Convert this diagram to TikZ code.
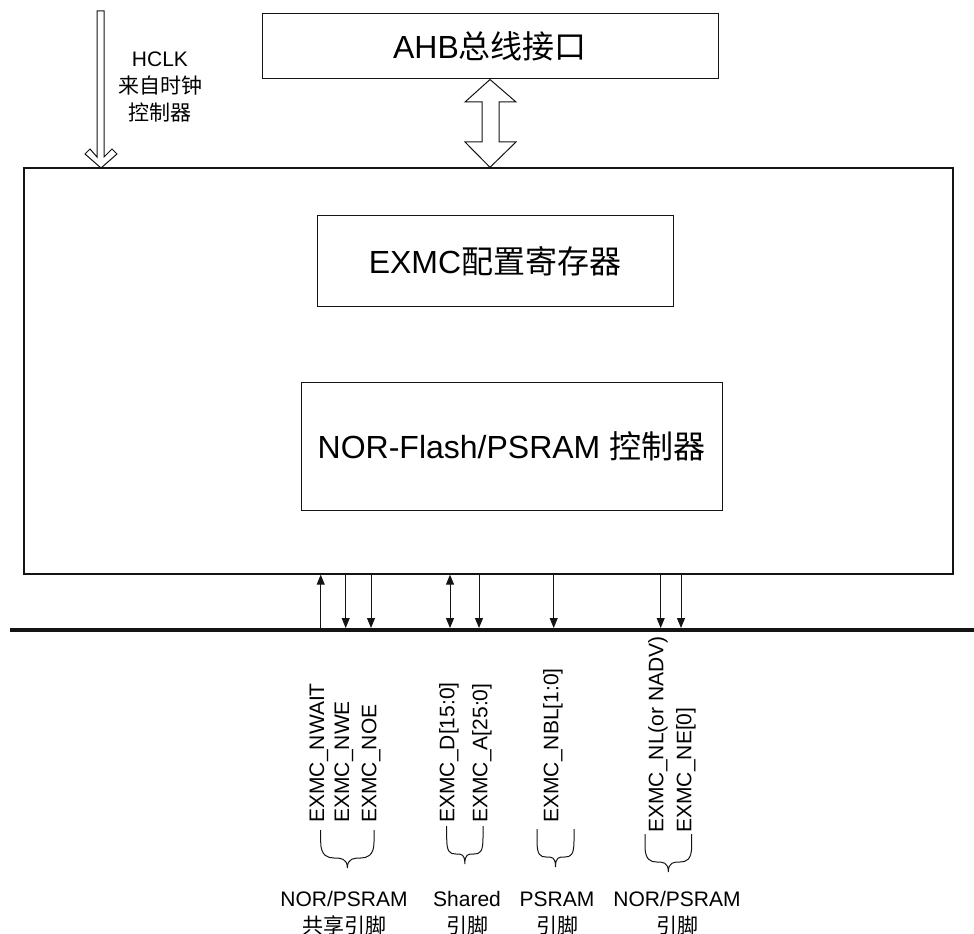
\documentclass[tikz,border=0pt]{standalone}
\usepackage{fontspec}
\setmainfont{Liberation Sans}
\newfontfamily\cjk{Noto Sans CJK SC}
\usepackage{tikz}
\usetikzlibrary{arrows.meta,positioning}
\usepackage{xcolor}
\definecolor{lineblack}{RGB}{20,20,20}

\newcommand{\pinbrace}[4]{%
  \pgfmathsetmacro\bm{(#2+#3)/2}%
  \pgfmathsetmacro\bl{(#2+\bm)/2}%
  \pgfmathsetmacro\br{(#3+\bm)/2}%
  \draw[draw=lineblack,line width=0.75pt] (#2,#4) -- (#2,#4+12)
    .. controls (#2,#4+26) and (\bl-6,#4+28) .. (\bl,#4+28)
    .. controls (\bl+6,#4+28) and (\bm,#4+28) .. (\bm,#4+38)
    .. controls (\bm,#4+28) and (\br-6,#4+28) .. (\br,#4+28)
    .. controls (\br+6,#4+28) and (#3,#4+26) .. (#3,#4+12) -- (#3,#4);
  \coordinate (#1) at (\bm,#4+38);}

\begin{document}
\begin{tikzpicture}[x=0.75pt,y=-0.75pt,line width=0.75pt,
  box/.style={draw=lineblack,inner sep=0pt,font=\fontsize{24}{28}\selectfont},
  sig/.style={draw=lineblack,-{Triangle[length=7.5pt,width=6pt]}},
  pin/.style={rotate=90,anchor=west,inner sep=0pt,font=\fontsize{15.75}{18}\selectfont},
  grp/.style={align=center,inner sep=0pt,font=\fontsize{15.75}{20.25}\selectfont}]
\useasboundingbox (0,0) rectangle (974,934);

\node[box,minimum width=342pt,minimum height=48.75pt] (ahb) at (490,46.5) {AHB{\cjk 总线接口}};
\node[box,line width=1pt,minimum width=696.75pt,minimum height=304.5pt] (exmc) at (488.5,371) {};
\node[box,minimum width=267pt,minimum height=67.5pt] (cfg) at (495,261) {EXMC{\cjk 配置寄存器}};
\node[box,minimum width=315.75pt,minimum height=96pt] (nor) at (511.5,446) {NOR-Flash/PSRAM {\cjk 控制器}};

\node[grp] (hclk) at (160,87) {HCLK\\{\cjk 来自时钟}\\{\cjk 控制器}};
\draw[draw=lineblack] (97,11) -- (104,11) -- (104,157) -- (112,149) -- (117,154) -- (101,168)
  -- (85,154) -- (90,149) -- (97,157) -- cycle;

\draw[draw=lineblack] (ahb.south) -- (516,102) -- (499,102) -- (499,142) -- (516,142) -- (exmc.north -| ahb.south)
  -- (465,142) -- (482,142) -- (482,102) -- (465,102) -- cycle;

\coordinate (busL) at (10,630);
\coordinate (busR) at (974,630);
\draw[draw=lineblack,line width=3pt] (busL) -- (busR);

\draw[sig,shorten <=1.5pt] (320.7,0 |- busL) -- (exmc.south -| 320.7,0);
\draw[sig,{Triangle[length=7.5pt,width=6pt]}-{Triangle[length=7.5pt,width=6pt]},shorten >=1.5pt] (exmc.south -| 450,0) -- (450,0 |- busL);
\foreach \x in {345.7,371,479,553.7,660.7,681}
  \draw[sig,shorten >=1.5pt] (exmc.south -| \x,0) -- (\x,0 |- busL);

\node[pin] (nwait) at (319,823) {EXMC\_NWAIT};
\node[pin] (nwe) at (344,823) {EXMC\_NWE};
\node[pin] (noe) at (371,823) {EXMC\_NOE};
\node[pin] (dbus) at (449,823) {EXMC\_D[15:0]};
\node[pin] (abus) at (482,823) {EXMC\_A[25:0]};
\node[pin] (nbl) at (553,823) {EXMC\_NBL[1:0]};
\node[pin] (nl) at (658,833) {EXMC\_NL(or NADV)};
\node[pin] (ne) at (686,833) {EXMC\_NE[0]};

\pinbrace{tipA}{320.7}{374}{830}
\pinbrace{tipB}{446.7}{483}{826}
\pinbrace{tipC}{537}{574}{829}
\pinbrace{tipD}{645}{691.7}{834}

\node[grp] (sharedA) at (344,913) {NOR/PSRAM\\{\cjk 共享引脚}};
\node[grp] (sharedB) at (467,913) {Shared\\{\cjk 引脚}};
\node[grp] (psram) at (557,913) {PSRAM\\{\cjk 引脚}};
\node[grp] (norpsram) at (677,913) {NOR/PSRAM\\{\cjk 引脚}};
\end{tikzpicture}
\end{document}
